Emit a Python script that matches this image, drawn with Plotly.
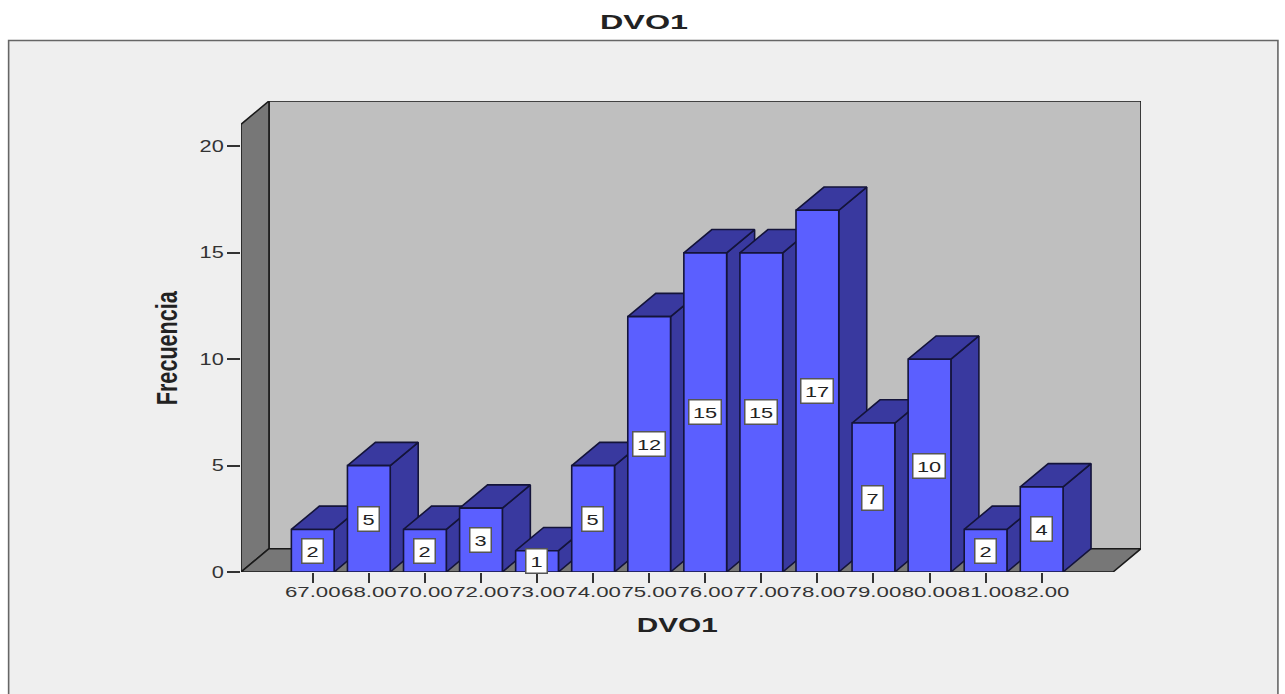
import plotly.graph_objects as go

# Data
categories = ["67.00", "68.00", "70.00", "72.00", "73.00", "74.00", "75.00",
              "76.00", "77.00", "78.00", "79.00", "80.00", "81.00", "82.00"]
frequencies = [2, 5, 2, 3, 1, 5, 12, 15, 15, 17, 7, 10, 2, 4]
y_ticks = [0, 5, 10, 15, 20]

# Pixel geometry of the reference's plot box
W, H = 1285, 694
LEFT, RIGHT, TOP, BOTTOM = 241.0, 1141.5, 101.0, 572.5
FRONT_RIGHT = 1114.0
STEP = 56.1
FIRST = 312.8
UNIT = 21.3
DEPTH_X = 28.0 / STEP
DEPTH_Y = 23.3 / UNIT
HALF = 21.4 / STEP

x_lo = (LEFT - FIRST) / STEP
x_hi = (RIGHT - FIRST) / STEP
y_hi = (BOTTOM - TOP) / UNIT
front_x_hi = x_hi - DEPTH_X
front_y_hi = y_hi - DEPTH_Y

FRONT = "#5B5FFF"
DARK = "#39399F"
EDGE = "#14143a"
WALL = "#777777"
BACK = "#BFBFBF"
PANEL = "#EFEFEF"
FONT = "Liberation Sans"
TXT = "#333333"


def poly(xs, ys, fill, line="#1a1a1a", width=1.6):
    return go.Scatter(x=xs + xs[:1], y=ys + ys[:1], mode="lines", fill="toself",
                      fillcolor=fill, line=dict(color=line, width=width),
                      hoverinfo="skip", showlegend=False, cliponaxis=False)


def px(x):
    return (x - LEFT) / (RIGHT - LEFT)


def py(y):
    return (BOTTOM - y) / (BOTTOM - TOP)


fig = go.Figure()
# Walls and floor
fig.add_trace(poly([x_lo + DEPTH_X, x_hi, x_hi, x_lo + DEPTH_X],
                   [DEPTH_Y, DEPTH_Y, y_hi, y_hi], BACK))
fig.add_trace(poly([x_lo, x_lo + DEPTH_X, x_lo + DEPTH_X, x_lo],
                   [0, DEPTH_Y, y_hi, front_y_hi], WALL))
fig.add_trace(poly([x_lo, x_lo + DEPTH_X, x_hi, front_x_hi],
                   [0, DEPTH_Y, DEPTH_Y, 0], WALL))

# Bars, painted left to right
for i, v in enumerate(frequencies):
    l, r = i - HALF, i + HALF
    fig.add_trace(poly([r, r + DEPTH_X, r + DEPTH_X, r],
                       [0, DEPTH_Y, v + DEPTH_Y, v], DARK, EDGE))
    fig.add_trace(poly([l, r, r + DEPTH_X, l + DEPTH_X],
                       [v, v, v + DEPTH_Y, v + DEPTH_Y], DARK, EDGE))
    fig.add_trace(poly([l, r, r, l], [0, 0, v, v], FRONT, EDGE))

# Value labels
annotations = [
    dict(x=i, y=v / 2, xref="x", yref="y", text=str(v), showarrow=False,
         font=dict(family=FONT, size=15, color="#222222"),
         bgcolor="#FFFFFF", bordercolor="#555555", borderwidth=1.5,
         width=18 if v < 10 else 29, height=21, align="center", valign="middle",
         xanchor="center", yanchor="middle", xshift=-0.5)
    for i, v in enumerate(frequencies)
]
# Axis titles, centred on the front face of the box
annotations.append(dict(x=px((LEFT + FRONT_RIGHT) / 2), y=py(626), xref="paper", yref="paper",
                        xanchor="center", yanchor="middle",
                        text="<b>DVO1</b>", showarrow=False,
                        font=dict(family=FONT, size=20, color="#222222")))
annotations.append(dict(x=px(167), y=py(348), xref="paper", yref="paper",
                        xanchor="center", yanchor="middle",
                        text="<b>Frecuencia</b>", showarrow=False, textangle=-90,
                        font=dict(family=FONT, size=29, color="#222222")))

fig.update_layout(
    width=W, height=H,
    margin=dict(l=LEFT, r=W - RIGHT, t=TOP, b=H - BOTTOM, autoexpand=False),
    paper_bgcolor="#FFFFFF", plot_bgcolor="rgba(0,0,0,0)",
    showlegend=False,
    title=dict(text="<b>DVO1</b>", x=644 / W, xanchor="center", xref="container",
               y=1 - 22 / H, yanchor="middle",
               font=dict(family=FONT, size=21, color="#222222")),
    shapes=[dict(type="rect", xref="paper", yref="paper", layer="below",
                 x0=px(8.5), x1=px(1278.5), y0=py(720), y1=py(40.5),
                 fillcolor=PANEL, line=dict(color="#666666", width=1.6))],
    annotations=annotations,
    xaxis=dict(range=[x_lo, x_hi], tickmode="array",
               tickvals=list(range(len(categories))), ticktext=categories,
               ticks="outside", ticklen=10, tickwidth=2, tickcolor="#333333",
               ticklabelstandoff=-4,
               tickfont=dict(family=FONT, size=15, color=TXT),
               showgrid=False, zeroline=False, showline=False),
    yaxis=dict(range=[0, y_hi], tickmode="array", tickvals=y_ticks,
               ticks="outside", ticklen=13, tickwidth=2, tickcolor="#333333",
               tickfont=dict(family=FONT, size=16, color=TXT),
               showgrid=False, zeroline=False, showline=False),
)

# The reference is a horizontally stretched raster: widen the real text the same way.
stretch = """
document.body.style.margin='0';
document.documentElement.style.overflow='hidden';
function widen(t, len){t.setAttribute('textLength', len);t.setAttribute('lengthAdjust','spacingAndGlyphs');}
document.querySelectorAll('.xtick text').forEach(function(t){widen(t, t.getComputedTextLength()*1.48);});
document.querySelectorAll('.ytick text').forEach(function(t){widen(t, t.getComputedTextLength()*1.36);});
document.querySelectorAll('.annotation-text').forEach(function(t){
  var s=t.textContent;
  if(s==='DVO1'){widen(t,81);}
  else if(s==='Frecuencia'){widen(t,114);}
  else{widen(t,t.getComputedTextLength()*1.45);}
});
document.querySelectorAll('.gtitle').forEach(function(t){widen(t,88);});
"""
fig.write_html("out.html", config={"displayModeBar": False}, post_script=stretch)
